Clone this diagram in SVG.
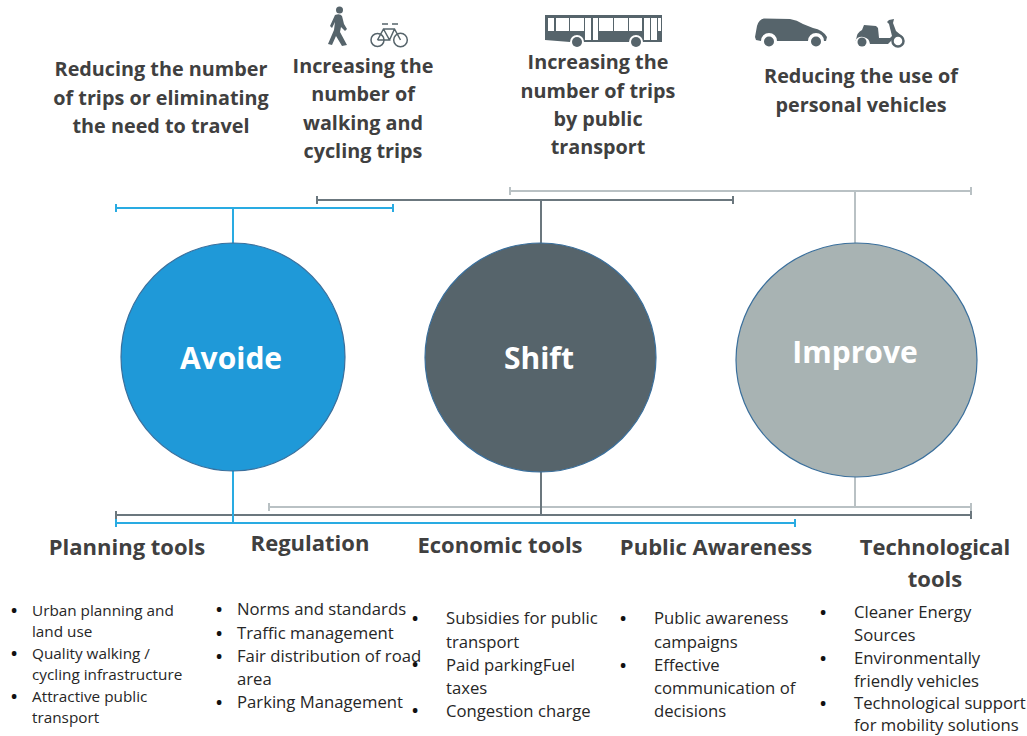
<svg xmlns="http://www.w3.org/2000/svg" width="1027" height="736" viewBox="0 0 1027 736">
<style>
text{font-family:"Open Sans","Noto Sans","Liberation Sans",sans-serif}
.h{font-size:19.8px;font-weight:700;fill:#404040;text-anchor:middle}
.t{font-size:22px;font-weight:700;fill:#404040;text-anchor:middle}
.b{font-size:16.7px;fill:#262626}
.p{font-size:15.3px;fill:#262626}
.d{font-size:16.5px;font-weight:700;fill:#111}
.c{font-size:30px;font-weight:700;fill:#fff;text-anchor:middle}
.ic{fill:#56646b}
.a{stroke:#29abe2;stroke-width:2;fill:none}
.s{stroke:#6b777e;stroke-width:2;fill:none}
.i{stroke:#b9c1c4;stroke-width:2;fill:none}
</style>
<rect width="1027" height="736" fill="#fff"/>
<g id="icons">
<g id="icon-walk" class="ic"><circle cx="339.500" cy="10" r="3.500"/><path d="M335 15Q340 13 342 16L344 24L347 29L345 31L341 27L340 32L347 45L342 46L336 36L332 45L328 44L334 30L335 22L332 28L330 26Z"/></g>
<g id="icon-bike" fill="none" stroke="#56646b" stroke-width="1.500"><circle cx="377.500" cy="40" r="6.500"/><circle cx="400.500" cy="40" r="6.800"/><path d="M377.500 40l6-11h11l6 11M383.500 29l6 11h-12M394.500 29l-5 11M382 24h6M392 24h6"/></g>
<g id="icon-bus" class="ic"><path fill-rule="evenodd" d="M545 15H662V42H643A7 7 0 0 0 629 42H584A7 7 0 0 0 570 42L545 40Z M548 18V31H554V18Z M556 18V31H569V18Z M570 18V31H584V18Z M585 18V40H591V18Z M593 18V40H598V18Z M599 18V31H613V18Z M614 18V31H628V18Z M629 18V31H642V18Z M644 18V40H650V18Z M651 18V40H657V18Z M658 18V31H661V18Z"/><circle cx="577" cy="42" r="5"/><circle cx="636" cy="42" r="5"/></g>
<g id="icon-car" class="ic"><path d="M755 37L757 26Q759 19 764 18.500L790 19Q797 20 803 24L813 28Q823 30 827 37L826 41H824A8 8 0 0 0 808 41H777A8 8 0 0 0 761 41L756 40Z"/><circle cx="769" cy="41.500" r="5"/><circle cx="816" cy="41.500" r="5"/></g>
<g id="icon-scooter" class="ic"><path d="M856 40Q857 32 862 30L864 25L876 26L878 28L879 38L890 38L892 36L889 24L887 22L889 20L894 19L893 23L896 31L902 36L892 40L888 44L870 44A8 8 0 0 0 855 41Z"/><circle cx="862" cy="42" r="4.500"/><circle cx="898" cy="41" r="5.500" fill="#fff" stroke="#56646b" stroke-width="2.500"/></g>
</g>
<g id="labels-top">
<text class="h" x="161" y="76">Reducing the number</text>
<text class="h" x="161" y="105">of trips or eliminating</text>
<text class="h" x="161" y="133">the need to travel</text>
<text class="h" x="363" y="73">Increasing the</text>
<text class="h" x="363" y="101">number of</text>
<text class="h" x="363" y="130">walking and</text>
<text class="h" x="363" y="158">cycling trips</text>
<text class="h" x="598" y="69">Increasing the</text>
<text class="h" x="598" y="98">number of trips</text>
<text class="h" x="598" y="126">by public</text>
<text class="h" x="598" y="154">transport</text>
<text class="h" x="861" y="83">Reducing the use of</text>
<text class="h" x="861" y="112">personal vehicles</text>
</g>
<g id="connectors">
<path class="i" d="M855 191V243M510 191H971M510 187v8M971 187v8"/>
<path class="s" d="M541 200V243M317 200H733M317 196v8M733 196v8"/>
<path class="a" d="M233 208V243M116 208H393M116 204v8M393 204v8"/>
<path class="i" d="M855 477V507M269 507H971M269 503v8M971 503v8"/>
<path class="s" d="M541 472V515M116 515H971M116 511v8M971 511v8"/>
<path class="a" d="M233 471V523M116 523H795M116 519v8M795 519v8"/>
</g>
<g id="node-avoide"><ellipse cx="233" cy="357" rx="112" ry="114" fill="#1f99d8" stroke="#3a6f9c" stroke-width="1.200"/><text class="c" x="231" y="369">Avoide</text></g>
<g id="node-shift"><ellipse cx="540.500" cy="357.500" rx="115.500" ry="114.500" fill="#56646b" stroke="#3a6f9c" stroke-width="1.200"/><text class="c" x="539" y="369">Shift</text></g>
<g id="node-improve"><ellipse cx="856.500" cy="360" rx="120.500" ry="117" fill="#a8b3b3" stroke="#3a6f9c" stroke-width="1.200"/><text class="c" x="855" y="363">Improve</text></g>
<g id="labels-bottom">
<text class="t" x="127" y="555">Planning tools</text>
<text class="t" x="310" y="551">Regulation</text>
<text class="t" x="500" y="553">Economic tools</text>
<text class="t" x="716" y="555">Public Awareness</text>
<text class="t" x="935" y="555">Technological</text>
<text class="t" x="935" y="587">tools</text>
</g>
<g id="list-planning" class="p">
<text class="d" x="11" y="616">•</text><text x="32" y="616">Urban planning and</text><text x="32" y="637">land use</text>
<text class="d" x="11" y="659">•</text><text x="32" y="659">Quality walking /</text><text x="32" y="680">cycling infrastructure</text>
<text class="d" x="11" y="702">•</text><text x="32" y="702">Attractive public</text><text x="32" y="723">transport</text>
</g>
<g id="list-regulation" class="b">
<text class="d" x="216" y="615">•</text><text x="237" y="615">Norms and standards</text>
<text class="d" x="216" y="639">•</text><text x="237" y="639">Traffic management</text>
<text class="d" x="216" y="662">•</text><text x="237" y="662">Fair distribution of road</text><text x="237" y="685">area</text>
<text class="d" x="216" y="708">•</text><text x="237" y="708">Parking Management</text>
</g>
<g id="list-economic" class="b">
<text class="d" x="412" y="624">•</text><text x="446" y="624">Subsidies for public</text><text x="446" y="648">transport</text>
<text class="d" x="412" y="670">•</text><text x="446" y="671">Paid parkingFuel</text><text x="446" y="694">taxes</text>
<text class="d" x="412" y="716">•</text><text x="446" y="717">Congestion charge</text>
</g>
<g id="list-awareness" class="b">
<text class="d" x="620" y="624">•</text><text x="654" y="624">Public awareness</text><text x="654" y="648">campaigns</text>
<text class="d" x="620" y="671">•</text><text x="654" y="671">Effective</text><text x="654" y="694">communication of</text><text x="654" y="717">decisions</text>
</g>
<g id="list-tech" class="b">
<text class="d" x="820" y="618">•</text><text x="854" y="618">Cleaner Energy</text><text x="854" y="641">Sources</text>
<text class="d" x="820" y="664">•</text><text x="854" y="664">Environmentally</text><text x="854" y="687">friendly vehicles</text>
<text class="d" x="820" y="709">•</text><text x="854" y="709">Technological support</text><text x="854" y="731">for mobility solutions</text>
</g>
</svg>
